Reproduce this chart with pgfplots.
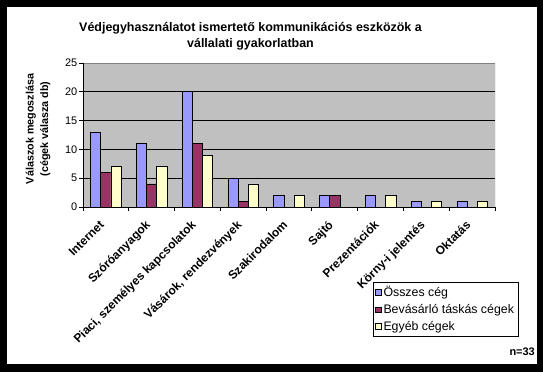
\documentclass[border=0pt]{standalone}
\usepackage{pgfplots}
\pgfplotsset{compat=1.18}
\usepackage{fontspec}
\setmainfont{Liberation Sans}
\definecolor{c1}{HTML}{9999FF}
\definecolor{c2}{HTML}{993366}
\definecolor{c3}{HTML}{FFFFCC}
\definecolor{plotgray}{HTML}{C0C0C0}
\definecolor{bordergray}{HTML}{808080}
\pgfplotsset{sq legend/.style={legend image code/.code={\draw[##1, draw=black, line width=0.6bp] (0bp,-2.8bp) rectangle (5.6bp,2.8bp);}}}
\begin{document}
\begin{tikzpicture}
\fill[black] (0,0) rectangle (543bp,372bp);
\fill[white] (7bp,8bp) rectangle (537bp,365bp);
\begin{axis}[
  at={(83bp,165bp)}, anchor=south west,
  scale only axis, width=412bp, height=144bp,
  xmin=-0.5, xmax=8.5, ymin=0, ymax=25,
  ybar=0pt, bar width=10.2bp,
  axis background/.style={fill=plotgray},
  axis line style={draw=none},
  ymajorgrids, grid style={black, line width=0.8bp},
  ytick={0,5,...,25},
  xtick={0,...,8},
  xticklabels={Internet, Szóróanyagok, {Piaci, személyes kapcsolatok}, {Vásárok, rendezvények}, Szakirodalom, Sajtó, Prezentációk, Körny-i jelentés, Oktatás},
  minor xtick={-0.5,0.5,...,8.5},
  major x tick style={draw=none},
  tick align=outside, major tick length=4bp, minor tick length=4bp,
  tick style={black, line width=0.8bp},
  tick pos=left,
  /pgf/number format/assume math mode=true,
  yticklabel style={font=\fontsize{11}{13}\selectfont, inner sep=1.5bp},
  xticklabel style={rotate=45, anchor=north east, font=\bfseries\fontsize{12}{14}\selectfont, inner ysep=1bp, inner xsep=11bp},
  legend style={at={(0.7039,-0.5208)}, anchor=north west, draw=black, line width=0.6bp,
    font=\fontsize{12.4}{14}\selectfont, inner sep=2bp, row sep=2.3bp,
    legend cell align=left, fill=white},
]
\addplot[fill=c1, draw=black, line width=0.6bp, sq legend] coordinates {(0,13) (1,11) (2,20) (3,5) (4,2) (5,2) (6,2) (7,1) (8,1)};
\addplot[fill=c2, draw=black, line width=0.6bp, sq legend] coordinates {(0,6) (1,4) (2,11) (3,1) (5,2)};
\addplot[fill=c3, draw=black, line width=0.6bp, sq legend] coordinates {(0,7) (1,7) (2,9) (3,4) (4,2) (6,2) (7,1) (8,1)};
\legend{Összes cég, Bevásárló táskás cégek, Egyéb cégek}
\draw[bordergray, line width=0.8bp] (rel axis cs:0,1) -- (rel axis cs:1,1) -- (rel axis cs:1,0);
\draw[black, line width=0.8bp] (rel axis cs:0,1) -- (rel axis cs:0,0) -- (rel axis cs:1,0);
\end{axis}
\node[font=\bfseries\fontsize{12.5}{16.5}\selectfont, align=center] at (250.5bp,336bp) {Védjegyhasználatot ismertető kommunikációs eszközök a\\vállalati gyakorlatban};
\node[rotate=90, font=\bfseries\fontsize{10.8}{14.5}\selectfont, align=center] at (38bp,243bp) {Válaszok megoszlása\\(cégek válasza db)};
\node[anchor=east, font=\bfseries\fontsize{11}{13}\selectfont, inner sep=0pt] at (535bp,20bp) {n=33};
\end{tikzpicture}
\end{document}
